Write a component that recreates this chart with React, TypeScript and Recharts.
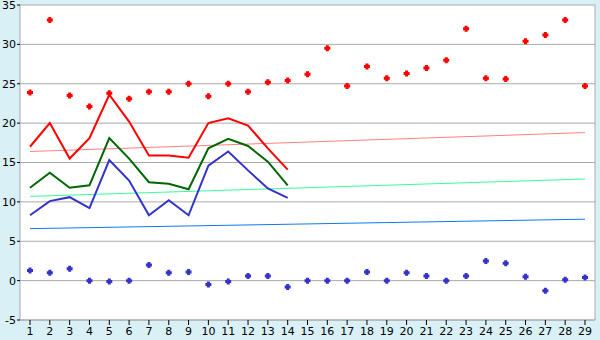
import React from "react";
import {
  ComposedChart,
  Line,
  Scatter,
  XAxis,
  YAxis,
  CartesianGrid,
} from "recharts";

const days = [1,2,3,4,5,6,7,8,9,10,11,12,13,14,15,16,17,18,19,20,21,22,23,24,25,26,27,28,29];
const maxPts = [23.9,33.1,23.5,22.1,23.8,23.1,24.0,24.0,25.0,23.4,25.0,24.0,25.2,25.4,26.2,29.5,24.7,27.2,25.7,26.3,27.0,28.0,32.0,25.7,25.6,30.4,31.2,33.1,24.7];
const minPts = [1.3,1.0,1.5,0,-0.1,0,2.0,1.0,1.1,-0.5,-0.1,0.6,0.6,-0.8,0,0,0,1.1,0,1.0,0.6,0,0.6,2.5,2.2,0.5,-1.3,0.1,0.4];
const redLine = [17.0,20.0,15.5,18.1,23.6,20.2,15.9,15.9,15.6,20.0,20.6,19.7,16.8,14.1];
const greenLine = [11.8,13.7,11.8,12.1,18.1,15.5,12.5,12.3,11.6,16.8,18.0,17.1,15.1,12.1];
const blueLine = [8.3,10.1,10.6,9.2,15.3,12.7,8.3,10.2,8.3,14.6,16.4,14.0,11.7,10.5];
// trend lines: value at first day and at last day
const redTrend = [16.4, 18.8];
const greenTrend = [10.7, 12.9];
const blueTrend = [6.6, 7.8];
const yTicks = [-5, 0, 5, 10, 15, 20, 25, 30, 35];

const last = days.length - 1;
const data = days.map((d, i) => ({
  day: d,
  max: maxPts[i],
  min: minPts[i],
  red: i < redLine.length ? redLine[i] : null,
  green: i < greenLine.length ? greenLine[i] : null,
  blue: i < blueLine.length ? blueLine[i] : null,
  rt: i === 0 ? redTrend[0] : i === last ? redTrend[1] : null,
  gt: i === 0 ? greenTrend[0] : i === last ? greenTrend[1] : null,
  bt: i === 0 ? blueTrend[0] : i === last ? blueTrend[1] : null,
}));

const makeMarker = (color: string) => (props: any) => {
  const { cx, cy } = props;
  if (cx == null || cy == null) return <g />;
  const a = 3;
  const b = 1.5;
  return (
    <path
      d={`M${cx - b},${cy - a}H${cx + b}V${cy - b}H${cx + a}V${cy + b}H${cx + b}V${cy + a}H${cx - b}V${cy + b}H${cx - a}V${cy - b}H${cx - b}Z`}
      fill={color}
    />
  );
};

const tickStyle = { fontFamily: "DejaVu Sans", fontSize: 11, fill: "#000" };

export default function App() {
  return (
    <div style={{ position: "absolute", left: 0, top: 0, width: 600, height: 340, background: "#D9F0F7" }}>
      <ComposedChart
        width={600}
        height={340}
        data={data}
        margin={{ top: 5, right: 0, bottom: 0, left: 0 }}
      >
        <CartesianGrid vertical={false} stroke="#AAAAAA" fill="#FFFFFF" strokeWidth={1} />
        <XAxis
          dataKey="day"
          type="category"
          height={20}
          interval={0}
          padding={{ left: 10, right: 10 }}
          tickSize={5}
          tickMargin={2}
          tick={tickStyle}
          axisLine={{ stroke: "#AAAAAA" }}
          tickLine={{ stroke: "#000" }}
        />
        <YAxis
          yAxisId={0}
          width={20}
          domain={[-5, 35]}
          ticks={yTicks}
          interval={0}
          tickSize={3}
          tickMargin={1}
          tick={tickStyle}
          axisLine={{ stroke: "#AAAAAA" }}
          tickLine={{ stroke: "#000" }}
        />
        <YAxis
          yAxisId="r"
          orientation="right"
          width={5}
          domain={[-5, 35]}
          ticks={yTicks}
          tick={false}
          tickLine={false}
          axisLine={{ stroke: "#AAAAAA" }}
        />
        <Line dataKey="rt" stroke="#FF8080" strokeWidth={1} dot={false} connectNulls isAnimationActive={false} />
        <Line dataKey="gt" stroke="#33FF99" strokeWidth={1} dot={false} connectNulls isAnimationActive={false} />
        <Line dataKey="bt" stroke="#1177EE" strokeWidth={1} dot={false} connectNulls isAnimationActive={false} />
        <Line dataKey="red" stroke="#FF0000" strokeWidth={2} dot={false} isAnimationActive={false} />
        <Line dataKey="green" stroke="#006600" strokeWidth={2} dot={false} isAnimationActive={false} />
        <Line dataKey="blue" stroke="#3333CC" strokeWidth={2} dot={false} isAnimationActive={false} />
        <Scatter dataKey="max" fill="#FF0000" shape={makeMarker("#FF0000")} isAnimationActive={false} />
        <Scatter dataKey="min" fill="#3333CC" shape={makeMarker("#3333CC")} isAnimationActive={false} />
      </ComposedChart>
    </div>
  );
}
